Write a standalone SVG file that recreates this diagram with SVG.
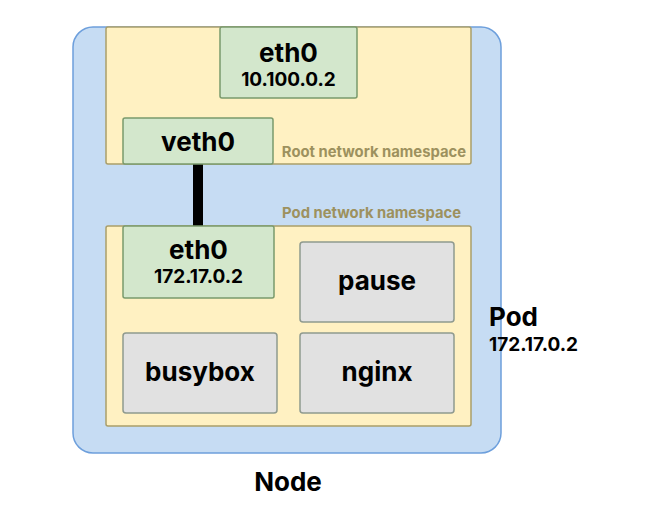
<svg xmlns="http://www.w3.org/2000/svg" width="649" height="509" viewBox="0 0 649 509">
<style>
text{font-family:Inter,"Liberation Sans",sans-serif;font-weight:bold;text-anchor:middle;fill:#000}
.big{font-size:26px}
.small{font-size:19px}
.ns{font-size:14.8px;fill:#9d915e;text-anchor:end}
.node{fill:#c6dcf3;stroke:#6d9fdc;stroke-width:1.5}
.yel{fill:#fff1c2;stroke:#aa9e6a;stroke-width:1.5}
.grn{fill:#d3e7cc;stroke:#7a9a6c;stroke-width:1.5}
.gry{fill:#e1e1e1;stroke:#8f9a8f;stroke-width:1.5}
</style>
<rect width="649" height="509" fill="#fff"/>
<g id="node">
<rect class="node" x="73" y="27" width="428" height="426" rx="20"/>
<text class="big" x="288" y="491">Node</text>
</g>
<g id="pod-label">
<text class="big" x="489" y="326" style="text-anchor:start">Pod</text>
<text class="small" x="489" y="351" style="text-anchor:start">172.17.0.2</text>
</g>
<g id="root-ns">
<rect class="yel" x="106" y="27" width="365" height="137" rx="2"/>
<text class="ns" x="466" y="157">Root network namespace</text>
</g>
<g id="pod-ns">
<rect class="yel" x="106" y="226" width="365" height="200" rx="2"/>
<text class="ns" x="461" y="218">Pod network namespace</text>
</g>
<g id="connectors">
<line x1="198" y1="164" x2="198" y2="227" stroke="#000" stroke-width="10"/>
</g>
<g id="host-eth0">
<rect class="grn" x="220" y="27" width="137" height="71" rx="2"/>
<text class="big" x="288.5" y="62">eth0</text>
<text class="small" x="288.5" y="86">10.100.0.2</text>
</g>
<g id="veth0">
<rect class="grn" x="123" y="118" width="150" height="46" rx="2"/>
<text class="big" x="198" y="151">veth0</text>
</g>
<g id="pod-eth0">
<rect class="grn" x="123" y="226" width="151" height="72" rx="2"/>
<text class="big" x="198.5" y="259">eth0</text>
<text class="small" x="198.5" y="283">172.17.0.2</text>
</g>
<g id="pause">
<rect class="gry" x="300" y="242" width="154" height="80" rx="3"/>
<text class="big" x="377" y="290">pause</text>
</g>
<g id="busybox">
<rect class="gry" x="123" y="333" width="154" height="80" rx="3"/>
<text class="big" x="200" y="381">busybox</text>
</g>
<g id="nginx">
<rect class="gry" x="300" y="333" width="154" height="80" rx="3"/>
<text class="big" x="377" y="381">nginx</text>
</g>
</svg>
